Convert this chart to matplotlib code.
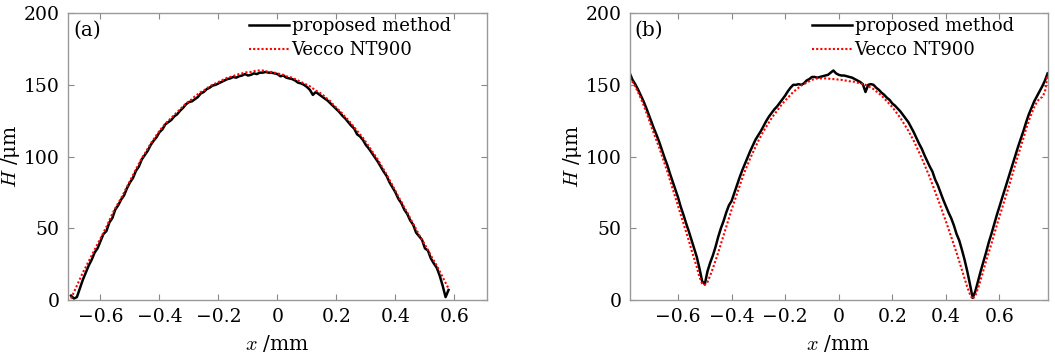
import numpy as np
import matplotlib
matplotlib.use("Agg")
import matplotlib.pyplot as plt
from matplotlib.ticker import FixedLocator, FuncFormatter

plt.rcParams['font.family'] = ['DejaVu Serif']
plt.rcParams['mathtext.fontset'] = 'cm'

# ---- panel (a): x from -0.70 to 0.58 mm, step 0.01
x_a = np.round(np.arange(-0.70, 0.585, 0.01), 2)
vecco_a = [
    1, 5.5, 10, 14.5, 19, 23, 27, 31, 35, 39,
    43, 47, 51, 55.5, 60, 64, 67.5, 71, 75, 79,
    83, 87, 91, 95, 99, 102, 105.5, 109, 112, 115,
    118, 120.5, 123, 125, 127, 129, 131, 133, 135, 137,
    138.5, 140, 142, 143.5, 145, 146, 147.5, 149, 150, 151,
    152, 153, 154, 155, 155.5, 156, 157, 157.5, 158, 158.5,
    159, 159, 159.5, 160, 160, 160, 159.5, 159, 159, 158.5,
    158, 157.5, 157, 156, 155.5, 155, 154, 153, 152, 151,
    150, 149, 147.5, 146, 145, 143.5, 142, 140, 138.5, 136,
    134, 132, 130, 127.5, 125.5, 123, 120.5, 118, 115.5, 113,
    110, 107, 104, 101, 98, 94.5, 91, 87.5, 83.5, 80,
    76, 72, 68.5, 64.5, 61, 57, 53, 49.5, 45.5, 42,
    38.5, 35, 31, 27.5, 24, 20, 16, 12, 8]
proposed_a = [
    3, 1, 2, 8, 14, 19, 24, 28, 33, 36,
    41, 46, 48, 54, 57, 63, 66, 70, 73, 78,
    82, 85, 90, 93, 98, 101, 104, 108, 111, 113.5,
    117, 119, 122.5, 124, 125.5, 128, 129.5, 132, 134, 136.5,
    138, 138.5, 140, 141.5, 144, 145, 147, 148, 149.5, 150,
    151, 152, 153, 154, 154.5, 155.5, 155, 156, 156.5, 157.5,
    156.5, 157, 158, 157.5, 158.5, 158.5, 159, 158.5, 158.5, 158,
    157.5, 156, 156.5, 155, 154.5, 154, 153, 151.5, 151, 150,
    148.5, 146.5, 143, 145, 143.5, 142, 140.5, 139, 137, 135,
    133, 131, 128.5, 126.5, 124, 121.5, 119.5, 115.5, 114, 111.5,
    108, 105.5, 102.5, 99.5, 96.5, 93, 89.5, 86.5, 82, 78.5,
    75, 70.5, 67.5, 63, 60, 55.5, 52.5, 47, 44.5, 42,
    36, 34.5, 29, 25.5, 22.5, 17, 10, 2, 7]

# ---- panel (b): x from -0.78 to 0.78 mm, step 0.01
x_b = np.round(np.arange(-0.78, 0.785, 0.01), 2)
vecco_b = [
    155, 152, 149, 145, 141, 136.5, 131.5, 126.5,
    121, 116, 111, 106, 100.5, 95, 89.5, 83.5, 77.5, 71.5,
    65.5, 59.5, 53.5, 47.5, 41.5, 35, 29, 23, 16, 11.5,
    10.5, 12.5, 17, 22, 27.5, 33, 39, 45, 51, 57,
    63, 68.5, 74, 79.5, 85, 90, 94.5, 99, 103, 107,
    111, 114.5, 118, 121, 124, 127, 129.5, 132, 134.5, 137,
    139, 141, 143, 145, 146.5, 148, 149.5, 150.5, 151.5, 152.5,
    153.5, 154, 154.5, 154.5, 154.5, 154.5, 154.5, 154, 154, 154,
    153.5, 153.5, 153, 153, 152.5, 152.5, 152, 151.5, 151, 150.5,
    150, 149, 148, 147, 145.5, 144, 142.5, 140.5, 138.5, 136.5,
    134.5, 132, 129.5, 127, 124, 121, 118, 114.5, 111, 107,
    103, 99, 94.5, 90, 85.5, 80.5, 75.5, 70.5, 65.5, 60,
    55, 49.5, 44, 38.5, 33, 27, 21, 15, 9, 4,
    0.5, 3, 8, 14, 20.5, 27, 33, 39, 45.5, 52,
    58, 64, 70, 76, 82, 88.5, 95, 101, 107, 113,
    119.5, 125, 130, 134.5, 138, 140.5, 141.5, 145, 157]
proposed_b = [
    158, 153.5, 150.5, 147, 143, 139, 134.5, 129.5,
    124.5, 119.5, 115, 110, 104.5, 99, 94, 88, 82.5, 77,
    71.5, 65, 59.5, 53.5, 48, 42, 36, 30, 22, 13,
    11, 20, 26, 31, 37, 44, 50, 55, 61, 66,
    69, 74.5, 80, 85.5, 90.5, 95, 99.5, 104, 108, 112,
    115, 118, 121.5, 125, 128, 130.5, 133, 135, 137.5, 140,
    142.5, 145.5, 148, 150, 150, 150.5, 150, 151, 153, 154,
    155.5, 155.5, 155, 155.5, 156, 156.5, 157, 158.5, 160, 158,
    157, 156.5, 156.5, 156, 155.5, 155, 154, 153, 152, 150.5,
    145, 150, 150.5, 150, 148, 146.5, 144.5, 143, 141, 139.5,
    137, 135.5, 133.5, 131.5, 129, 126.5, 124, 120.5, 117, 113,
    109, 105.5, 101, 97, 93, 89.5, 84, 80, 75, 70,
    65.5, 61, 57, 52, 46, 41.5, 35, 28, 20, 11,
    1.5, 6, 13, 20, 26.5, 33, 40, 46, 52.5, 59,
    65, 71, 77, 83, 89, 95, 101, 107, 112.5, 118,
    124, 129.5, 134, 138.5, 142, 145.5, 149, 153, 158]

x_ticks = [-0.6, -0.4, -0.2, 0, 0.2, 0.4, 0.6]
y_ticks = [0, 50, 100, 150, 200]
panel_tags = ['(a)', '(b)']
legend_labels = ['proposed method', 'Vecco NT900']


def fmt(v, pos):
    s = '%g' % v
    return s.replace('-', '\u2212')


fig = plt.figure(figsize=(10.55, 3.55), dpi=100)
ax_a = fig.add_axes([0.0645, 0.155, 0.397, 0.808])
ax_b = fig.add_axes([0.597, 0.155, 0.396, 0.808])

panels = [
    (ax_a, x_a, proposed_a, vecco_a, (-0.71, 0.71), 0.415),
    (ax_b, x_b, proposed_b, vecco_b, (-0.78, 0.78), 0.419),
]

for i, (ax, x, prop, vec, xl, leg_x) in enumerate(panels):
    ax.plot(x, prop, color='black', lw=1.8, label=legend_labels[0])
    ax.plot(x, vec, color='red', lw=1.5, ls=(0, (1, 1)), label=legend_labels[1])
    ax.set_xlim(*xl)
    ax.set_ylim(0, 200)
    ax.xaxis.set_major_locator(FixedLocator(x_ticks))
    ax.yaxis.set_major_locator(FixedLocator(y_ticks))
    ax.xaxis.set_major_formatter(FuncFormatter(fmt))
    ax.yaxis.set_major_formatter(FuncFormatter(fmt))
    ax.tick_params(direction='in', length=4, width=0.8, color='#888888',
                   top=True, right=True, labelsize=13.5, pad=6)
    for sp in ax.spines.values():
        sp.set_color('#999999')
        sp.set_linewidth(1.0)
    ax.set_xlabel('$x$ /mm', fontsize=14.5, labelpad=5)
    ax.set_ylabel('$H$ /\u03bcm', fontsize=14.5, labelpad=1)
    ax.text(0.012, 0.975, panel_tags[i], transform=ax.transAxes,
            fontsize=14.5, va='top', ha='left')
    ax.legend(loc='upper left', bbox_to_anchor=(leg_x, 1.01), frameon=False,
              fontsize=13, handlelength=2.2, handletextpad=0.15,
              labelspacing=0.3, borderaxespad=0, borderpad=0.4)

fig.savefig('out.png', dpi=100, facecolor='white')
